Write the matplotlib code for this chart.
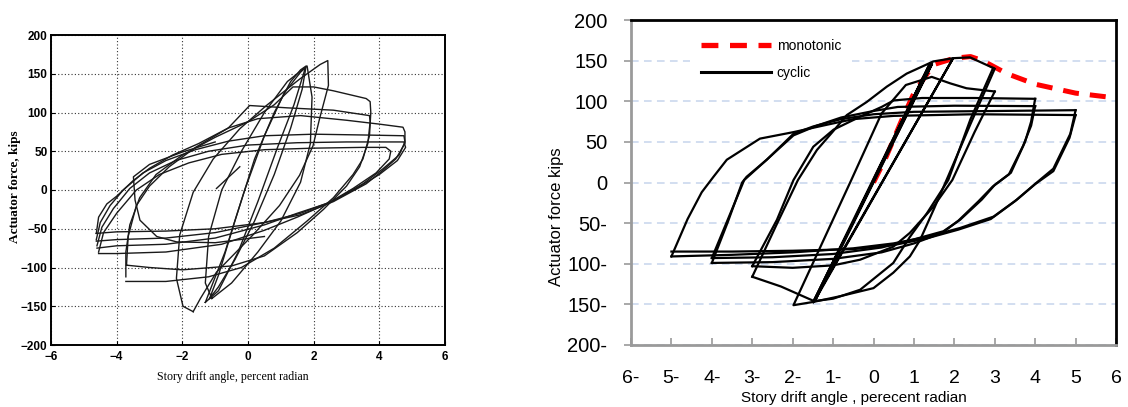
import matplotlib
matplotlib.use('Agg')
import matplotlib.pyplot as plt
from matplotlib.lines import Line2D

# ======================= LEFT PANEL (experimental record) =======================
# each loop: list of (drift %, force kips) read from the picture
left_init = [(-0.96, 2), (-0.25, 30)]

left_big1 = [(-4.62, -56), (-4.55, -35), (-4.3, -18), (-4.0, -8), (-3.5, 12), (-3.0, 28),
             (-2.3, 45), (-1.5, 60), (-0.6, 80), (0.3, 92), (1.6, 96), (3.0, 90), (4.0, 85),
             (4.72, 81), (4.78, 75), (4.78, 60), (4.5, 40), (4.1, 25), (3.6, 8), (2.6, -15),
             (1.6, -32), (0.5, -42), (-1.0, -50), (-2.5, -53), (-4.0, -54), (-4.62, -56)]
left_big2 = [(-4.62, -64), (-4.5, -42), (-4.2, -20), (-3.8, 0), (-3.2, 22), (-2.5, 38),
             (-1.6, 52), (-0.6, 63), (0.5, 70), (2.0, 72), (3.5, 71), (4.75, 70), (4.78, 62),
             (4.6, 45), (4.1, 27), (3.5, 8), (2.6, -14), (1.6, -30), (0.5, -42), (-1.0, -55),
             (-2.5, -62), (-4.0, -64), (-4.62, -66)]
left_big3 = [(-4.6, -72), (-4.45, -48), (-4.1, -24), (-3.6, 2), (-3.0, 22), (-2.2, 38),
             (-1.2, 50), (0.0, 58), (1.5, 61), (3.0, 62), (4.75, 62), (4.8, 55), (4.55, 38),
             (4.0, 20), (3.3, 2), (2.5, -16), (1.5, -30), (0.5, -45), (-1.0, -62), (-2.5, -70),
             (-4.0, -72), (-4.6, -75)]
left_big4 = [(-4.55, -80), (-4.4, -55), (-4.0, -30), (-3.4, 0), (-2.7, 20), (-1.8, 35),
             (-0.8, 46), (0.5, 52), (2.0, 54), (3.5, 55), (4.2, 55), (4.35, 50), (4.3, 40),
             (3.9, 22), (3.2, 2), (2.4, -18), (1.5, -35), (0.5, -52), (-0.8, -70), (-2.5, -80),
             (-4.0, -82), (-4.55, -82)]
left_mid1 = [(-3.72, -112), (-3.72, -80), (-3.6, -45), (-3.3, -10), (-2.8, 20), (-2.0, 45),
             (-1.0, 68), (0.0, 88), (0.8, 110), (1.37, 133), (2.0, 133), (2.6, 128), (3.6, 118),
             (3.72, 114), (3.74, 100), (3.7, 70), (3.5, 40), (3.2, 20), (2.6, -10), (1.8, -40),
             (0.8, -75), (-0.2, -100), (-1.2, -112), (-2.5, -118), (-3.72, -118)]
left_mid2 = [(-3.7, -97), (-3.65, -60), (-3.4, -20), (-3.0, 5), (-2.4, 30), (-1.6, 55),
             (-0.6, 80), (0.05, 109), (1.2, 106), (2.6, 103), (3.7, 96), (3.72, 88), (3.65, 60),
             (3.4, 30), (3.0, 5), (2.3, -25), (1.5, -55), (0.5, -85), (-0.5, -98), (-2.0, -103),
             (-3.0, -100), (-3.7, -97)]
left_ell1 = [(-1.67, -157), (-1.98, -150), (-2.18, -114), (-2.08, -58), (-1.67, -3), (-1.06, 40),
             (-0.25, 79), (0.56, 109), (1.57, 143), (2.2, 162), (2.43, 167), (2.45, 135),
             (2.18, 92), (1.98, 57), (1.57, 19), (0.96, -20), (0.15, -58), (-0.96, -106),
             (-1.45, -140), (-1.67, -157)]
left_ell2 = [(-1.1, -140), (-1.3, -120), (-1.2, -60), (-0.8, 0), (-0.2, 50), (0.5, 100),
             (1.2, 140), (1.8, 160), (1.95, 120), (1.9, 60), (1.6, 10), (1.0, -40), (0.3, -80),
             (-0.5, -120), (-1.1, -140)]
left_nar1 = [(-1.17, -140), (-0.9, -110), (-0.4, -40), (0.2, 40), (0.8, 100), (1.3, 140),
             (1.6, 155), (1.77, 160), (1.65, 130), (1.3, 80), (0.8, 20), (0.2, -40),
             (-0.4, -90), (-0.9, -125), (-1.17, -140)]
left_nar2 = [(-1.3, -145), (-0.7, -80), (-0.1, 0), (0.5, 70), (1.1, 125), (1.6, 152),
             (1.75, 158), (1.4, 110), (0.9, 55), (0.3, -15), (-0.3, -80), (-0.9, -130), (-1.3, -145)]
left_side = [(-1.0, 62), (-2.0, 49), (-3.0, 33), (-3.49, 17), (-3.44, -13), (-3.29, -39),
             (-2.78, -60), (-2.17, -67), (-1.0, -68), (0.5, -60)]

left_loops = [left_init, left_big1, left_big2, left_big3, left_big4, left_mid1, left_mid2,
              left_ell1, left_ell2, left_nar1, left_nar2, left_side]

left_xticks = [-6, -4, -2, 0, 2, 4, 6]
left_yticks = [-200, -150, -100, -50, 0, 50, 100, 150, 200]

# ======================= RIGHT PANEL (analysis) =======================
r_el_x = [-1.49, 1.45, -1.45, 1.40, -1.49]
r_el_y = [-147, 146, -146, 147, -147]
r_c2_x = [-1.49, -1.98, -0.55, 0.2, 0.8, 1.44, 1.9, 2.3, 3.0]
r_c2_y = [-147, -151, 3, 85, 120, 130, 122, 116, 112]
r_c3_x = [-1.49, 1.97, -1.45]
r_c3_y = [-147, 153, -145]
r_u3a_x = [-3.0, -2.4, -1.87, -1.4, -1.0, -0.66, -0.17, 0.33, 0.82, 1.48, 1.97, 2.39, 2.96]
r_u3a_y = [-116, -52, 3, 40, 63, 83, 99, 118, 134, 149, 153, 154, 141]
r_d3a_x = [2.96, 2.4, 1.85, 1.32, 0.9, 0.49, -0.33, -1.0, -1.47, -2.29, -3.0]
r_d3a_y = [141, 78, 3, -38, -67, -99, -132, -143, -146, -128, -116]
r_d3b_x = [3.0, 2.5, 1.95, 1.48, 0.9, 0.49, -0.33, -1.0, -2.0, -3.0]
r_d3b_y = [112, 62, 3, -30, -62, -79, -95, -102, -105, -103]
r_u3c_x = [-1.49, -0.83, 0.0, 0.49, 0.9, 1.15, 1.5, 1.85, 2.4, 3.0]
r_u3c_y = [-147, -140, -130, -111, -91, -71, -32, 8, 72, 140]
r_u4a_x = [-3.0, -2.39, -1.98, -1.49, -0.99, -0.33, 0.2, 0.5, 1.2, 2.5, 4.0]
r_u4a_y = [-103, -46, 3, 44, 65, 81, 93, 101, 104, 104, 103]
r_d4a_x = [4.0, 3.9, 3.75, 3.4, 3.0, 2.68, 2.14, 1.73, 1.0, 0.2, -1.0, -2.5, -4.0]
r_d4a_y = [103, 75, 50, 12, -3, -21, -46, -60, -70, -80, -88, -92, -93]
r_u4b_x = [-4.0, -3.6, -3.2, -2.6, -1.98, -1.4, -0.8, 0.0, 0.6, 2.0, 4.0]
r_u4b_y = [-93, -45, 3, 30, 58, 70, 80, 88, 93, 94.5, 94]
r_d4b_x = [4.0, 3.9, 3.7, 3.35, 2.95, 2.6, 2.1, 1.7, 1.0, 0.2, -1.0, -2.5, -4.0]
r_d4b_y = [94, 70, 45, 10, -5, -23, -47, -62, -75, -86, -94, -98, -99]
r_u4c_x = [-4.0, -3.6, -3.25, -3.14, -2.64, -1.98, -1.49, -0.8, 0.0, 1.0, 3.0, 5.0]
r_u4c_y = [-99, -48, 0, 7, 28, 60, 69, 78, 84, 87, 88, 89]
r_d5a_x = [5.0, 4.87, 4.45, 4.04, 3.55, 2.97, 2.14, 1.32, 0.49, -0.5, -2.0, -3.5, -5.0]
r_d5a_y = [89, 60, 17, 0, -21, -42, -56, -67, -75, -81, -86, -89, -91]
r_u5_x = [-5.0, -4.6, -4.25, -3.96, -3.63, -2.81, -1.98, -1.16, -0.5, 0.5, 2.5, 5.0]
r_u5_y = [-91, -45, -12, 7, 28, 54, 62, 71, 78, 82, 84, 83]
r_d5b_x = [5.0, 4.85, 4.45, 4.0, 3.5, 2.9, 2.1, 1.3, 0.5, -0.5, -2.0, -3.5, -5.0]
r_d5b_y = [83, 55, 14, -2, -23, -45, -58, -69, -77, -82, -84, -85, -85]

cyclic_x = [r_el_x, r_c2_x, r_c3_x, r_u3a_x, r_d3a_x, r_d3b_x, r_u3c_x, r_u4a_x, r_d4a_x,
            r_u4b_x, r_d4b_x, r_u4c_x, r_d5a_x, r_u5_x, r_d5b_x]
cyclic_y = [r_el_y, r_c2_y, r_c3_y, r_u3a_y, r_d3a_y, r_d3b_y, r_u3c_y, r_u4a_y, r_d4a_y,
            r_u4b_y, r_d4b_y, r_u4c_y, r_d5a_y, r_u5_y, r_d5b_y]

mono_x = [0.0, 0.3, 0.7, 1.0, 1.48, 2.0, 2.4, 2.7, 3.3, 4.0, 5.0, 6.0]
mono_y = [0, 30, 77, 110, 145, 153, 155, 150, 134, 121, 110, 104]

right_xticks = list(range(-6, 7))
right_xlabels = [f"{abs(v)}-" if v < 0 else str(v) for v in right_xticks]
right_yticks = list(range(-200, 201, 50))
right_ylabels = [f"{abs(v)}-" if v < 0 else str(v) for v in right_yticks]

# ======================= FIGURE =======================
W, H = 1128, 407
fig = plt.figure(figsize=(W / 100, H / 100), dpi=100)
fig.patch.set_facecolor('white')

# ---- left panel ----
axL = fig.add_axes([51 / W, (H - 345) / H, 394 / W, 310 / H])
for loop in left_loops:
    xs, ys = zip(*loop)
    axL.plot(xs, ys, color='#1a1a1a', lw=1.0, solid_joinstyle='round')
axL.set_xlim(-6, 6)
axL.set_ylim(-200, 200)
axL.set_xticks(left_xticks)
axL.set_yticks(left_yticks)
axL.grid(True, linestyle=(0, (1, 2)), color='#333333', linewidth=0.8)
axL.tick_params(axis='x', direction='in', length=3, pad=4.5, labelsize=8.5)
axL.tick_params(axis='y', direction='in', length=3, pad=2.5, labelsize=8.5)
for lbl in axL.get_xticklabels() + axL.get_yticklabels():
    lbl.set_fontfamily('Liberation Sans')
    lbl.set_fontweight('bold')
for s in axL.spines.values():
    s.set_linewidth(1.4)
axL.set_xlabel('Story drift angle, percent radian', family='Liberation Serif', fontsize=8.6)
axL.set_ylabel('Actuator force, kips', family='Liberation Serif', fontsize=9.5, fontweight='bold')
axL.xaxis.set_label_coords((233 - 51) / 394, (345 - 371) / 310)
axL.yaxis.set_label_coords((21 - 51) / 394, (345 - 187) / 310)

# ---- right panel ----
axR = fig.add_axes([631 / W, (H - 345) / H, 485 / W, 325 / H])
axR.plot(mono_x, mono_y, color='#ff0000', lw=3.6, dashes=(3.2, 2.2), zorder=2)
for xs, ys in zip(cyclic_x, cyclic_y):
    axR.plot(xs, ys, color='black', lw=1.6, zorder=3)
axR.set_xlim(-6, 6)
axR.set_ylim(-200, 200)
axR.set_xticks(right_xticks)
axR.set_xticklabels(right_xlabels)
axR.set_yticks(right_yticks)
axR.set_yticklabels(right_ylabels)
for lbl in axR.get_xticklabels() + axR.get_yticklabels():
    lbl.set_fontfamily('Liberation Sans')
axR.tick_params(axis='x', direction='in', length=5, color='#9a9a9a', width=1.2, pad=18, labelsize=14)
axR.tick_params(axis='y', direction='out', length=5, color='#9a9a9a', width=1.2, pad=12, labelsize=14.5)
axR.yaxis.grid(True, color='#c6d4ec', linewidth=1.1, linestyle=(0, (5, 3.5)))
axR.set_axisbelow(True)
for side in ('left', 'bottom'):
    axR.spines[side].set_color('#9a9a9a')
    axR.spines[side].set_linewidth(2)
for side in ('top', 'right'):
    axR.spines[side].set_color('black')
    axR.spines[side].set_linewidth(2)
axR.set_xlabel('Story drift angle , perecent radian', family='Liberation Sans', fontsize=11)
axR.set_ylabel('Actuator force kips', family='Liberation Sans', fontsize=12)
axR.xaxis.set_label_coords((854 - 631) / 485, (345 - 391) / 325)
axR.yaxis.set_label_coords((564 - 631) / 485, (345 - 217) / 325)

h_mono = Line2D([], [], color='#ff0000', lw=3.8, dashes=(3.2, 2.2))
h_cyc = Line2D([], [], color='black', lw=2.2)
leg = axR.legend([h_mono, h_cyc], ['monotonic', 'cyclic'], loc='upper left',
                 bbox_to_anchor=((690 - 631) / 485, (345 - 28) / 325), borderaxespad=0,
                 borderpad=0.8,
                 frameon=True, facecolor='white', edgecolor='none', framealpha=1,
                 handlelength=5.0, handletextpad=0.45, labelspacing=0.95,
                 prop={'family': 'Liberation Sans', 'size': 10})
leg.set_zorder(1)

fig.savefig('out.png', dpi=100, facecolor='white')
